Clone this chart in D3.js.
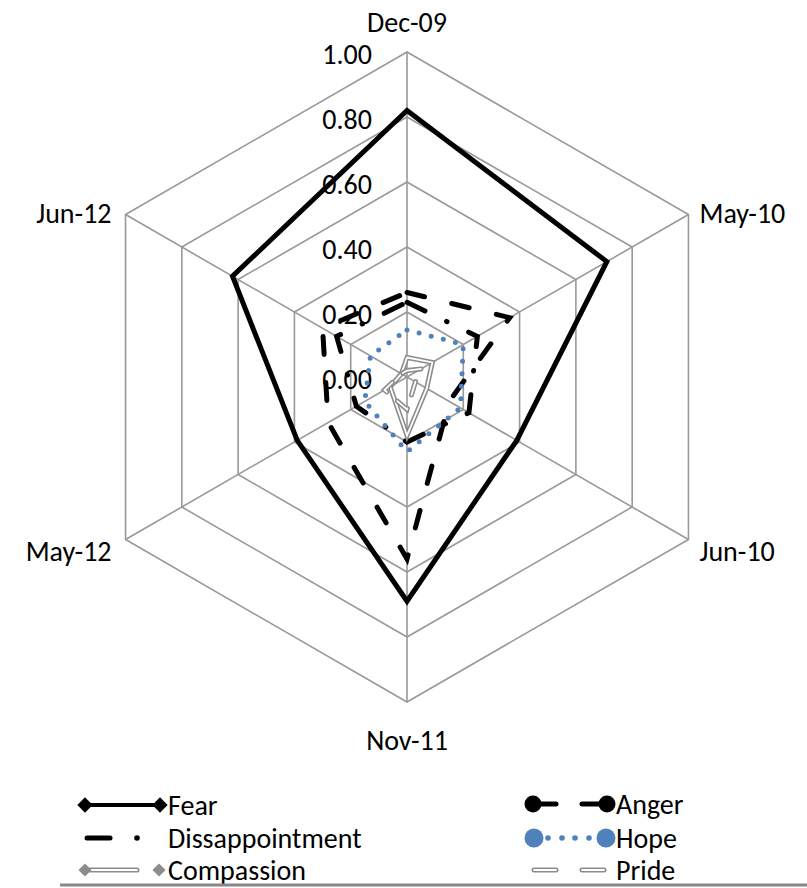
<!DOCTYPE html>
<html lang="en">
<head>
<meta charset="utf-8">
<title>Radar chart</title>
<script src="https://cdnjs.cloudflare.com/ajax/libs/d3/7.8.5/d3.min.js"></script>
<style>
  body { margin: 0; background: #fff; }
  text { font-family: Carlito, Lato, "Liberation Sans", sans-serif; font-size: 28px; fill: #000; }
</style>
</head>
<body>
<script>
// categories and tick labels
var months = ["Dec-09", "May-10", "Jun-10", "Nov-11", "May-12", "Jun-12"];
var tickValues = [0, 0.2, 0.4, 0.6, 0.8, 1.0];

// series values
var fear            = [0.82, 0.71, 0.39, 0.69, 0.39, 0.62];
var anger           = [0.26, 0.365, 0.15, 0.56, 0.28, 0.30];
var disappointment  = [0.23, 0.25, 0.22, 0.20, 0.18, 0.25];
var hope            = [0.145, 0.20, 0.19, 0.23, 0.15, 0.13];
var compassion      = [0.06, 0.09, 0.07, 0.18, 0.06, 0.02];
var pride           = [0.02, 0.05, 0.03, 0.10, 0.08, 0.02];

var w = 807, h = 888,
    cx = 407, cy = 377,
    R = 325,
    gridColor = "#999";

var svg = d3.select("body").append("svg")
    .attr("width", w)
    .attr("height", h);

var rScale = d3.scaleLinear().domain([0, 1]).range([0, R]);
var aScale = d3.scaleLinear().domain([0, months.length]).range([0, 2 * Math.PI]);

function pt(i, v) {
    var a = aScale(i);
    return [cx + rScale(v) * Math.sin(a), cy - rScale(v) * Math.cos(a)];
}

// grid rings
svg.selectAll("polygon.ring").data(tickValues.slice(1))
    .enter().append("polygon")
    .attr("class", "ring")
    .attr("points", function (t) {
        return months.map(function (m, i) { return pt(i, t).join(","); }).join(" ");
    })
    .attr("fill", "none")
    .attr("stroke", gridColor)
    .attr("stroke-width", 1.6);

// spokes
svg.selectAll("line.spoke").data(months)
    .enter().append("line")
    .attr("class", "spoke")
    .attr("x1", cx).attr("y1", cy)
    .attr("x2", function (d, i) { return pt(i, 1)[0]; })
    .attr("y2", function (d, i) { return pt(i, 1)[1]; })
    .attr("stroke", gridColor)
    .attr("stroke-width", 1.6);

// tick labels on the first spoke
svg.selectAll("text.tick").data(tickValues)
    .enter().append("text")
    .attr("class", "tick")
    .attr("x", cx - 35)
    .attr("y", function (t) { return cy - rScale(t) + 12; })
    .attr("text-anchor", "end")
    .text(function (t) { return d3.format(".2f")(t); });

// category labels
svg.selectAll("text.cat").data(months)
    .enter().append("text")
    .attr("class", "cat")
    .attr("x", function (d, i) {
        var p = pt(i, 1), s = Math.sin(aScale(i));
        return p[0] + (Math.abs(s) < 0.01 ? 0 : (s > 0 ? 11 : -14));
    })
    .attr("y", function (d, i) {
        var p = pt(i, 1), c = Math.cos(aScale(i));
        if (c > 0.99) return p[1] - 20;
        if (c < -0.99) return p[1] + 48;
        return p[1] + (c > 0 ? 8 : 21);
    })
    .attr("text-anchor", function (d, i) {
        var s = Math.sin(aScale(i));
        return Math.abs(s) < 0.01 ? "middle" : (s > 0 ? "start" : "end");
    })
    .text(function (d) { return d; });

var line = d3.line().curve(d3.curveLinearClosed);
function path(vals) {
    return line(vals.map(function (v, i) { return pt(i, v); }));
}

// series
svg.append("path").attr("d", path(fear))
    .attr("fill", "none").attr("stroke", "#000").attr("stroke-width", 5)
    .attr("stroke-linejoin", "miter");

svg.append("path").attr("d", path(anger))
    .attr("fill", "none").attr("stroke", "#000").attr("stroke-width", 5)
    .attr("stroke-dasharray", "18,28").attr("stroke-linecap", "round");

svg.append("path").attr("d", path(disappointment))
    .attr("fill", "none").attr("stroke", "#000").attr("stroke-width", 5)
    .attr("stroke-dasharray", "20,24,0.5,24").attr("stroke-linecap", "round");

svg.append("path").attr("d", path(hope))
    .attr("fill", "none").attr("stroke", "#4f81bd").attr("stroke-width", 5)
    .attr("stroke-dasharray", "0,12.5").attr("stroke-linecap", "round");

svg.append("path").attr("d", path(compassion))
    .attr("fill", "none").attr("stroke", "#8c8c8c").attr("stroke-width", 5)
    .attr("stroke-linecap", "round");
svg.append("path").attr("d", path(compassion))
    .attr("fill", "none").attr("stroke", "#fff").attr("stroke-width", 1.8)
    .attr("stroke-linecap", "round");

svg.append("path").attr("d", path(pride))
    .attr("fill", "none").attr("stroke", "#8c8c8c").attr("stroke-width", 5)
    .attr("stroke-dasharray", "14,14").attr("stroke-linecap", "round");
svg.append("path").attr("d", path(pride))
    .attr("fill", "none").attr("stroke", "#fff").attr("stroke-width", 1.8)
    .attr("stroke-dasharray", "14,14").attr("stroke-linecap", "round");

// legend
var lg = svg.append("g");
var diamond = d3.symbol().type(d3.symbolDiamond2).size(150);
var gdiamond = d3.symbol().type(d3.symbolDiamond2).size(110);

function legendText(x, y, t) {
    lg.append("text").attr("x", x).attr("y", y + 10).text(t);
}

// Fear
lg.append("line").attr("x1", 85).attr("x2", 160).attr("y1", 805).attr("y2", 805)
    .attr("stroke", "#000").attr("stroke-width", 4);
[85, 160].forEach(function (x) {
    lg.append("path").attr("d", diamond).attr("transform", "translate(" + x + ",805)");
});
legendText(168, 805, "Fear");

// Dissappointment
lg.append("line").attr("x1", 87).attr("x2", 110).attr("y1", 838).attr("y2", 838)
    .attr("stroke", "#000").attr("stroke-width", 5).attr("stroke-linecap", "round");
lg.append("circle").attr("cx", 137).attr("cy", 838).attr("r", 2.8);
legendText(168, 838, "Dissappointment");

// Compassion
lg.append("line").attr("x1", 90).attr("x2", 137).attr("y1", 870).attr("y2", 870)
    .attr("stroke", "#8c8c8c").attr("stroke-width", 5).attr("stroke-linecap", "round");
lg.append("line").attr("x1", 90).attr("x2", 137).attr("y1", 870).attr("y2", 870)
    .attr("stroke", "#fff").attr("stroke-width", 1.8).attr("stroke-linecap", "round");
[85, 159].forEach(function (x) {
    lg.append("path").attr("d", gdiamond).attr("fill", "#8c8c8c")
        .attr("transform", "translate(" + x + ",870)");
});
legendText(168, 870, "Compassion");

// Anger
lg.append("line").attr("x1", 533).attr("x2", 556).attr("y1", 804).attr("y2", 804)
    .attr("stroke", "#000").attr("stroke-width", 5).attr("stroke-linecap", "round");
lg.append("line").attr("x1", 582).attr("x2", 606).attr("y1", 804).attr("y2", 804)
    .attr("stroke", "#000").attr("stroke-width", 5).attr("stroke-linecap", "round");
[533, 607].forEach(function (x) {
    lg.append("circle").attr("cx", x).attr("cy", 804).attr("r", 8.5);
});
legendText(616, 804, "Anger");

// Hope
[548, 562, 575, 589].forEach(function (x) {
    lg.append("circle").attr("cx", x).attr("cy", 838).attr("r", 2.8).attr("fill", "#4f81bd");
});
[534, 606].forEach(function (x) {
    lg.append("circle").attr("cx", x).attr("cy", 838).attr("r", 9.5).attr("fill", "#4f81bd");
});
legendText(616, 838, "Hope");

// Pride
[[534, 556], [582, 604]].forEach(function (s) {
    lg.append("line").attr("x1", s[0]).attr("x2", s[1]).attr("y1", 870).attr("y2", 870)
        .attr("stroke", "#8c8c8c").attr("stroke-width", 5).attr("stroke-linecap", "round");
    lg.append("line").attr("x1", s[0]).attr("x2", s[1]).attr("y1", 870).attr("y2", 870)
        .attr("stroke", "#fff").attr("stroke-width", 1.8).attr("stroke-linecap", "round");
});
legendText(616, 870, "Pride");

// bottom rule
svg.append("line").attr("x1", 60).attr("x2", w).attr("y1", 885).attr("y2", 885)
    .attr("stroke", "#888").attr("stroke-width", 3);
</script>
</body>
</html>
